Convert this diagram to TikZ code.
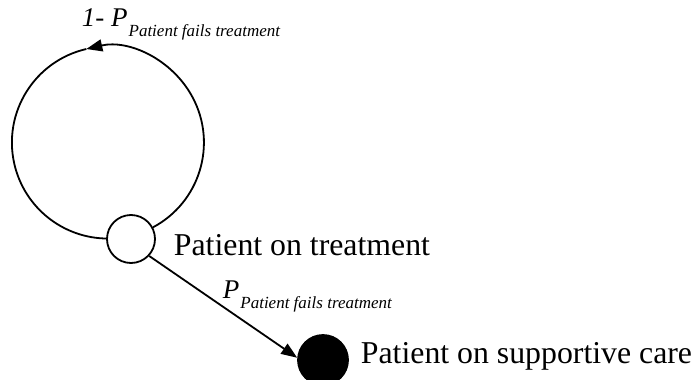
\documentclass[tikz,border=0pt]{standalone}
\usepackage{fontspec}
\setmainfont{Liberation Serif}
\usetikzlibrary{arrows.meta}
\tikzstyle{state}=[circle, draw, minimum size=24pt, inner sep=0pt]
\tikzstyle{statename}=[anchor=base west, inner sep=0pt, font=\fontsize{15.9}{19}\selectfont]
\tikzstyle{prob}=[anchor=base west, inner sep=0pt, font=\fontsize{13.5}{16}\selectfont\itshape]
\newcommand{\failsub}{\kern0.5pt\raisebox{-5pt}{\fontsize{8.5}{10}\selectfont Patient fails treatment}}

\begin{document}
\begin{tikzpicture}[x=0.5pt, y=-0.5pt, line width=0.9pt, >={Triangle[length=8pt,width=6pt]}]
\useasboundingbox (0,0) rectangle (696,380);
% States
    \node[state, fill=white] (treat) at (131,239) {};
    \node[state, fill=black, minimum size=25pt] (care) at (323,360) {};
% State names
    \node[statename] (treatname) at (173,255) {Patient on treatment};
    \node[statename] (carename) at (360,363) {Patient on supportive care};
% Stay on treatment
    \draw[->] (treat.28) arc[start angle=62, end angle=-103, radius=96] coordinate (looptop);
    \draw (looptop) arc[start angle=-103, end angle=-270, radius=96];
    \node[prob] (staylabel) at (81,26) {1- P\failsub};
% Treatment fails
    \draw[->] (treat.-43) -- (care.175);
    \node[prob] (faillabel) at (222,298) {P\failsub};
\end{tikzpicture}
\end{document}
